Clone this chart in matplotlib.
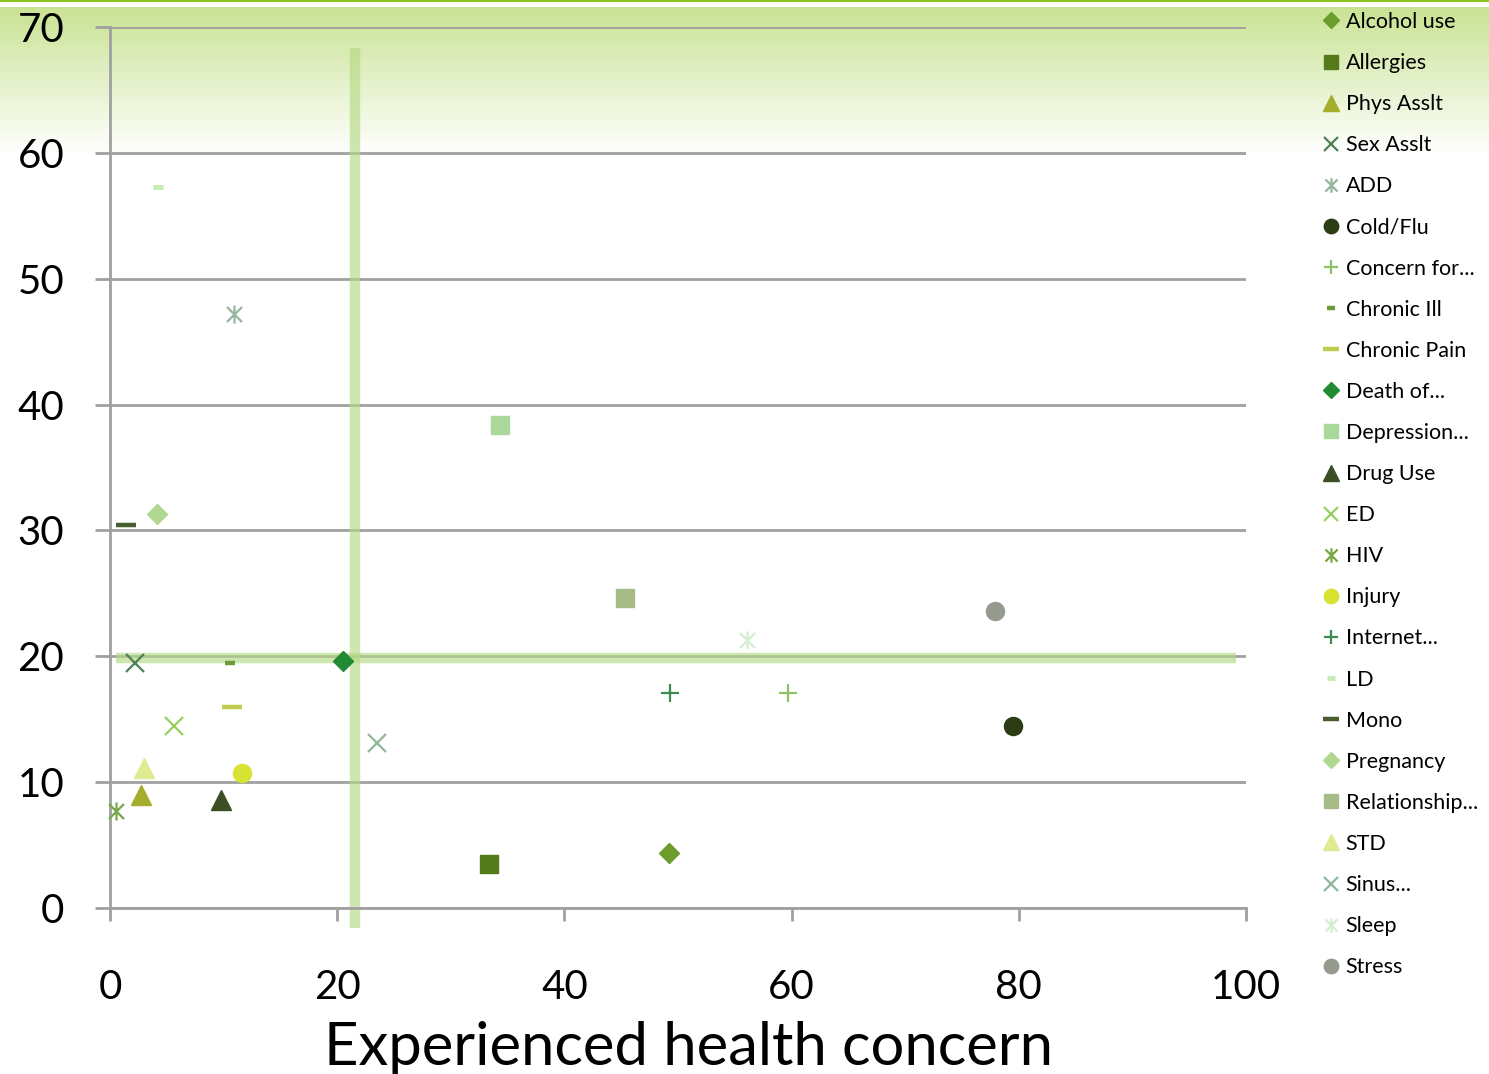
import numpy as np
import matplotlib
matplotlib.use('Agg')
import matplotlib.pyplot as plt
from matplotlib.path import Path

plt.rcParams['font.family'] = ['Lato', 'DejaVu Sans']

# ---- data ----
names = ['Alcohol use', 'Allergies', 'Phys Asslt', 'Sex Asslt', 'ADD', 'Cold/Flu',
         'Concern for...', 'Chronic Ill', 'Chronic Pain', 'Death of...', 'Depression...',
         'Drug Use', 'ED', 'HIV', 'Injury', 'Internet...', 'LD', 'Mono', 'Pregnancy',
         'Relationship...', 'STD', 'Sinus...', 'Sleep', 'Stress']
xs = [49.2, 33.4, 2.7, 2.2, 10.9, 79.5,
      59.7, 10.6, 10.7, 20.5, 34.3,
      9.8, 5.6, 0.5, 11.6, 49.3, 4.2, 1.4, 4.1,
      45.3, 3.0, 23.5, 56.1, 77.9]
ys = [4.4, 3.5, 9.0, 19.5, 47.2, 14.5,
      17.1, 19.5, 16.0, 19.6, 38.4,
      8.6, 14.5, 7.7, 10.7, 17.1, 57.3, 30.4, 31.3,
      24.6, 11.1, 13.1, 21.3, 23.6]

# average lines
vline_x = 21.6
vline_span = [-1.6, 68.3]
hline_y = 19.9
hline_span = [0.5, 99.1]

xticks = [0, 20, 40, 60, 80, 100]
yticks = [0, 10, 20, 30, 40, 50, 60, 70]

# ---- styles ----
star = Path([(-1, -1), (1, 1), (-1, 1), (1, -1), (0, -1.2), (0, 1.2)],
            [Path.MOVETO, Path.LINETO, Path.MOVETO, Path.LINETO, Path.MOVETO, Path.LINETO])

markers = ['D', 's', '^', 'x', star, 'o',
           '+', '_', '_', 'D', 's',
           '^', 'x', star, 'o', '+', '_', '_', 'D',
           's', '^', 'x', star, 'o']
colors = ['#6c9c2c', '#557a1c', '#a4ad2c', '#4e8058', '#94b69c', '#2c3c14',
          '#8cc264', '#6e9a3a', '#c2cc4e', '#228a34', '#a8d89a',
          '#3c4e24', '#96d060', '#76a846', '#d8e232', '#3e8a50', '#c6ecb6', '#485e30', '#b0d890',
          '#a6bc88', '#e0ea90', '#90b898', '#d0f0d0', '#959a8e']
sizes = [10, 13, 14, 13, 13, 13,
         13, 7, 14, 10, 13,
         14, 13, 13, 13, 13, 7, 14, 10,
         13, 14, 13, 13, 13]
dash_w = {'Chronic Ill': 3.2, 'Chronic Pain': 3.2, 'LD': 3.6, 'Mono': 3.2}

W, H = 1489, 1074
fig = plt.figure(figsize=(W / 100, H / 100), dpi=100)

# background: thin green rule at top, then green fade to white
bg = fig.add_axes([0, 0, 1, 1], zorder=-5)
rows = np.arange(H)
t = np.clip((rows - 8) / 145.0, 0, 1)
top = np.array([0.79, 0.89, 0.58])
col = top[None, :] * (1 - t[:, None]) + np.array([1.0, 1.0, 1.0])[None, :] * t[:, None]
col[2:7] = 1.0
col[:2] = np.array([0.55, 0.78, 0.12])
bg.imshow(col[:, None, :], aspect='auto', extent=[0, 1, H, 0])
bg.set_xlim(0, 1)
bg.set_ylim(H, 0)
bg.axis('off')

ax = fig.add_axes([110 / W, 1 - 908 / H, (1246 - 110) / W, (908 - 27) / H], zorder=1)
ax.set_facecolor('none')
ax.set_xlim(0, 100)
ax.set_ylim(0, 70)

gray = '#a0a0a0'
ax.set_yticks(yticks)
ax.set_xticks(xticks)
ax.grid(axis='y', color=gray, lw=2, zorder=0)
for s in ['top', 'right']:
    ax.spines[s].set_visible(False)
for s in ['left', 'bottom']:
    ax.spines[s].set_color(gray)
    ax.spines[s].set_linewidth(2)
ax.tick_params(axis='y', direction='out', length=11, width=2, color=gray,
               labelsize=29, pad=22)
ax.tick_params(axis='x', direction='out', length=9, width=2, color=gray,
               labelsize=29, pad=35)

# average bands
ax.plot([vline_x, vline_x], vline_span, color='#b4da86', alpha=0.65, lw=7.5,
        solid_capstyle='butt', clip_on=False, zorder=2)
ax.plot(hline_span, [hline_y, hline_y], color='#b4da86', alpha=0.65, lw=7.5,
        solid_capstyle='butt', clip_on=False, zorder=2)

handles = []
for name, x, y, m, c, ms in zip(names, xs, ys, markers, colors, sizes):
    if m in ('x', '+') or m is star:
        h, = ax.plot([x], [y], ls='none', marker=m, ms=ms, color=c, mew=1.6,
                     mfc='none', clip_on=False, zorder=3, label=name)
    elif m == '_':
        h, = ax.plot([x], [y], ls='none', marker=m, ms=ms, color=c,
                     mew=dash_w[name], clip_on=False, zorder=3, label=name)
    else:
        h, = ax.plot([x], [y], ls='none', marker=m, ms=ms, color=c, mec=c,
                     mew=1, clip_on=False, zorder=3, label=name)
    handles.append(h)

fig.legend(handles=handles, loc='upper left', bbox_to_anchor=(1322 / W, 1 - 12 / H),
           frameon=False, fontsize=15.5, markerscale=0.8, handlelength=0.8,
           handletextpad=0.3, labelspacing=0.98, borderpad=0, borderaxespad=0)

fig.text(689 / W, 1 - 1065 / H, 'Experienced health concern', fontsize=43,
         ha='center', va='baseline')

fig.savefig('out.png', dpi=100)
